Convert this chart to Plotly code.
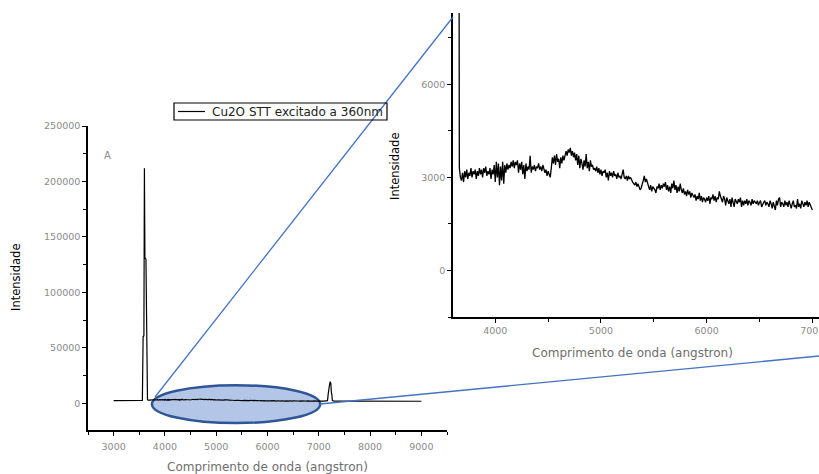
import plotly.graph_objects as go

# Photoluminescence spectrum of Cu2O (STT), excitation at 360 nm
wl_pre = [3000, 3100, 3200, 3300, 3400, 3500, 3560, 3575, 3590, 3600, 3610, 3630, 3645]
int_pre = [2500, 2600, 2500, 2600, 2500, 2600, 2700, 60000, 61000, 212000, 131000, 130000, 40000]

# visible-range emission, 3660-7000 angstrom, 10 angstrom steps
wl_vis = list(range(3660, 7001, 10))
int_vis = [
    3300, 3000, 2900, 3150, 2850, 3200, 3000, 3250, 2950, 3150,
    3050, 3300, 3000, 3200, 3100, 3250, 2950, 3200, 3050, 3300,
    3100, 3250, 3000, 3300, 3150, 3350, 3050, 3200, 3100, 3300,
    2950, 3250, 3100, 3400, 2850, 3500, 3000, 3450, 2750, 3350,
    2900, 3500, 2800, 3400, 3150, 3450, 3250, 3400, 3300, 3500,
    3350, 3550, 3300, 3500, 3400, 3550, 3150, 3450, 3250, 3500,
    3100, 3400, 2950, 3450, 3200, 3350, 3250, 3700, 3150, 3350,
    3250, 3400, 3200, 3350, 3300, 3450, 3250, 3350, 3200, 3400,
    3300, 3150, 3250, 3050, 3200, 3100, 3000, 3300, 3650, 3450,
    3700, 3400, 3750, 3500, 3600, 3300, 3650, 3450, 3700, 3550,
    3750, 3850, 3700, 3900, 3800, 3950, 3700, 3850, 3650, 3800,
    3550, 3750, 3400, 3700, 3300, 3600, 3450, 3250, 3550, 3350,
    3750, 3300, 3500, 3200, 3550, 3350, 3400, 3250, 3300, 3200,
    3350, 3150, 3300, 3100, 3250, 3050, 3200, 3150, 3250, 3000,
    3150, 2900, 3200, 3050, 3150, 3000, 3200, 3050, 3100, 2950,
    3150, 3000, 3050, 2950, 3100, 3250, 3000, 2950, 3050, 2900,
    3050, 2950, 3000, 2900, 2850, 2800, 2750, 2850, 2700, 2800,
    2700, 2600, 2650, 2750, 2900, 3050, 2850, 2950, 2800, 2700,
    2600, 2750, 2550, 2700, 2650, 2600, 2500, 2700, 2650, 2800,
    2600, 2750, 2650, 2800, 2700, 2850, 2600, 2750, 2550, 2700,
    2500, 2800, 2650, 2900, 2600, 2750, 2500, 2700, 2550, 2800,
    2600, 2500, 2650, 2450, 2550, 2400, 2600, 2450, 2550, 2350,
    2500, 2400, 2350, 2450, 2250, 2400, 2300, 2500, 2250, 2400,
    2200, 2350, 2300, 2200, 2350, 2250, 2400, 2150, 2350, 2300,
    2450, 2250, 2400, 2200, 2350, 2300, 2550, 2400, 2250, 2200,
    2400, 2300, 2100, 2350, 2250, 2150, 2300, 2050, 2350, 2200,
    2050, 2300, 2200, 2150, 2300, 2200, 2350, 2050, 2250, 2100,
    2250, 2150, 2300, 2100, 2250, 2200, 2100, 2300, 2150, 2250,
    2200, 2150, 2250, 2100, 2200, 2250, 2050, 2150, 2200, 2250,
    2100, 2200, 2150, 2050, 2250, 2150, 2000, 2200, 2050, 1950,
    2250, 2100, 2300, 2350, 2050, 2200, 2150, 2050, 2250, 2100,
    2200, 2050, 2250, 2100, 2000, 2150, 2250, 2050, 2100, 2000,
    2300, 2050, 2150, 2000, 2250, 2150, 2050, 2200, 2100, 2250,
    2050, 2200, 2100, 2050, 1950,
]

wl_post = [7020, 7060, 7100, 7140, 7170, 7185, 7195, 7210, 7222, 7235, 7245, 7255, 7265,
           7300, 7500, 7800, 8100, 8400, 8700, 9000]
int_post = [2050, 2000, 2100, 2050, 2400, 9000, 15000, 17000, 19500, 18000, 10000, 8000, 2500,
            2000, 1950, 1900, 1950, 1900, 1850, 1900]

wavelength = wl_pre + wl_vis + wl_post
intensity = int_pre + int_vis + int_post

LEGEND_LABEL = "Cu2O STT excitado a 360nm"

W, H = 819, 474
FONT = "DejaVu Sans"
TICK_GREY = "#8a8a8a"
TITLE_GREY = "#6e6e6e"


def px(x):
    return x / W


def py(y):
    return 1 - y / H


fig = go.Figure()
fig.add_trace(go.Scatter(
    x=wavelength, y=intensity, mode="lines",
    line=dict(color="black", width=1.2),
    name=LEGEND_LABEL, showlegend=False,
    xaxis="x", yaxis="y",
))
inset_x = [w for w in wavelength if w <= 7000]
inset_y = [v for w, v in zip(wavelength, intensity) if w <= 7000]
fig.add_trace(go.Scatter(
    x=inset_x, y=inset_y, mode="lines",
    line=dict(color="black", width=1.3),
    showlegend=False, xaxis="x2", yaxis="y2",
))

axis_common = dict(
    showline=True, linecolor="black", linewidth=1.5, mirror=False,
    ticks="outside", ticklen=4, tickwidth=1, tickcolor="black",
    showgrid=False, zeroline=False, automargin=False,
    tickfont=dict(family=FONT, size=9.5, color=TICK_GREY),
)

fig.update_layout(
    width=W, height=H,
    margin=dict(l=0, r=0, t=0, b=0),
    paper_bgcolor="white", plot_bgcolor="rgba(0,0,0,0)",
    showlegend=False,
    xaxis=dict(domain=[px(88), px(447)], range=[2500, 9500], anchor="y",
               tickvals=[3000, 4000, 5000, 6000, 7000, 8000, 9000],
               ticklabelstandoff=3,
               minor=dict(dtick=500, tick0=0, ticks="outside", ticklen=3, tickcolor="black"),
               **axis_common),
    yaxis=dict(domain=[py(430), py(126)], range=[-24000, 250000], anchor="x",
               tickvals=[0, 50000, 100000, 150000, 200000, 250000], tickformat="d",
               minor=dict(dtick=25000, tick0=0, ticks="outside", ticklen=3, tickcolor="black"),
               **axis_common),
    xaxis2=dict(domain=[px(453), 1.0], range=[3600, 7063], anchor="y2",
                tickvals=[4000, 5000, 6000, 7000], ticklabeloverflow="allow",
                minor=dict(dtick=500, tick0=0, ticks="outside", ticklen=3, tickcolor="black"),
                **axis_common),
    yaxis2=dict(domain=[py(317), py(13)], range=[-1500, 8300], anchor="x2",
                tickvals=[0, 3000, 6000], tickformat="d",
                minor=dict(dtick=1500, tick0=0, ticks="outside", ticklen=3, tickcolor="black"),
                **axis_common),
)

# zoom callout: highlighted region and connector lines
fig.add_shape(type="circle", xref="x", yref="y",
              x0=3746, x1=7028, y0=-17800, y1=16400,
              fillcolor="rgb(180,198,231)", line=dict(color="rgb(47,85,151)", width=2.5),
              layer="below")
fig.add_shape(type="line", xref="paper", yref="paper",
              x0=px(155), y0=py(397), x1=px(453), y1=py(17),
              line=dict(color="rgb(68,114,196)", width=1.3))
fig.add_shape(type="line", xref="paper", yref="paper",
              x0=px(320), y0=py(404), x1=1.0, y1=py(356),
              line=dict(color="rgb(68,114,196)", width=1.3))

# legend box with line sample
fig.add_shape(type="rect", xref="paper", yref="paper",
              x0=px(174), x1=px(387), y0=py(120), y1=py(103),
              line=dict(color="black", width=1.2), fillcolor="rgba(0,0,0,0)")
fig.add_shape(type="line", xref="paper", yref="paper",
              x0=px(178), x1=px(205), y0=py(111.5), y1=py(111.5),
              line=dict(color="black", width=1.2))

annotations = [
    dict(text=LEGEND_LABEL, x=px(210), y=py(111.5), xanchor="left",
         font=dict(size=12, color="#222222")),
    dict(text="A", x=px(107), y=py(155), font=dict(size=10, color=TICK_GREY)),
    dict(text="Intensidade", x=px(16), y=py(278), textangle=-90,
         font=dict(size=11.5, color="black")),
    dict(text="Comprimento de onda (angstron)", x=px(267), y=py(467),
         font=dict(size=12, color=TITLE_GREY)),
    dict(text="Intensidade", x=px(395), y=py(167), textangle=-90,
         font=dict(size=11.5, color="black")),
    dict(text="Comprimento de onda (angstron)", x=px(632), y=py(353),
         font=dict(size=12, color=TITLE_GREY)),
]
for a in annotations:
    a["font"]["family"] = FONT
    a.setdefault("xanchor", "center")
    fig.add_annotation(xref="paper", yref="paper", showarrow=False,
                       yanchor="middle", **a)

fig.write_html("out.html")
